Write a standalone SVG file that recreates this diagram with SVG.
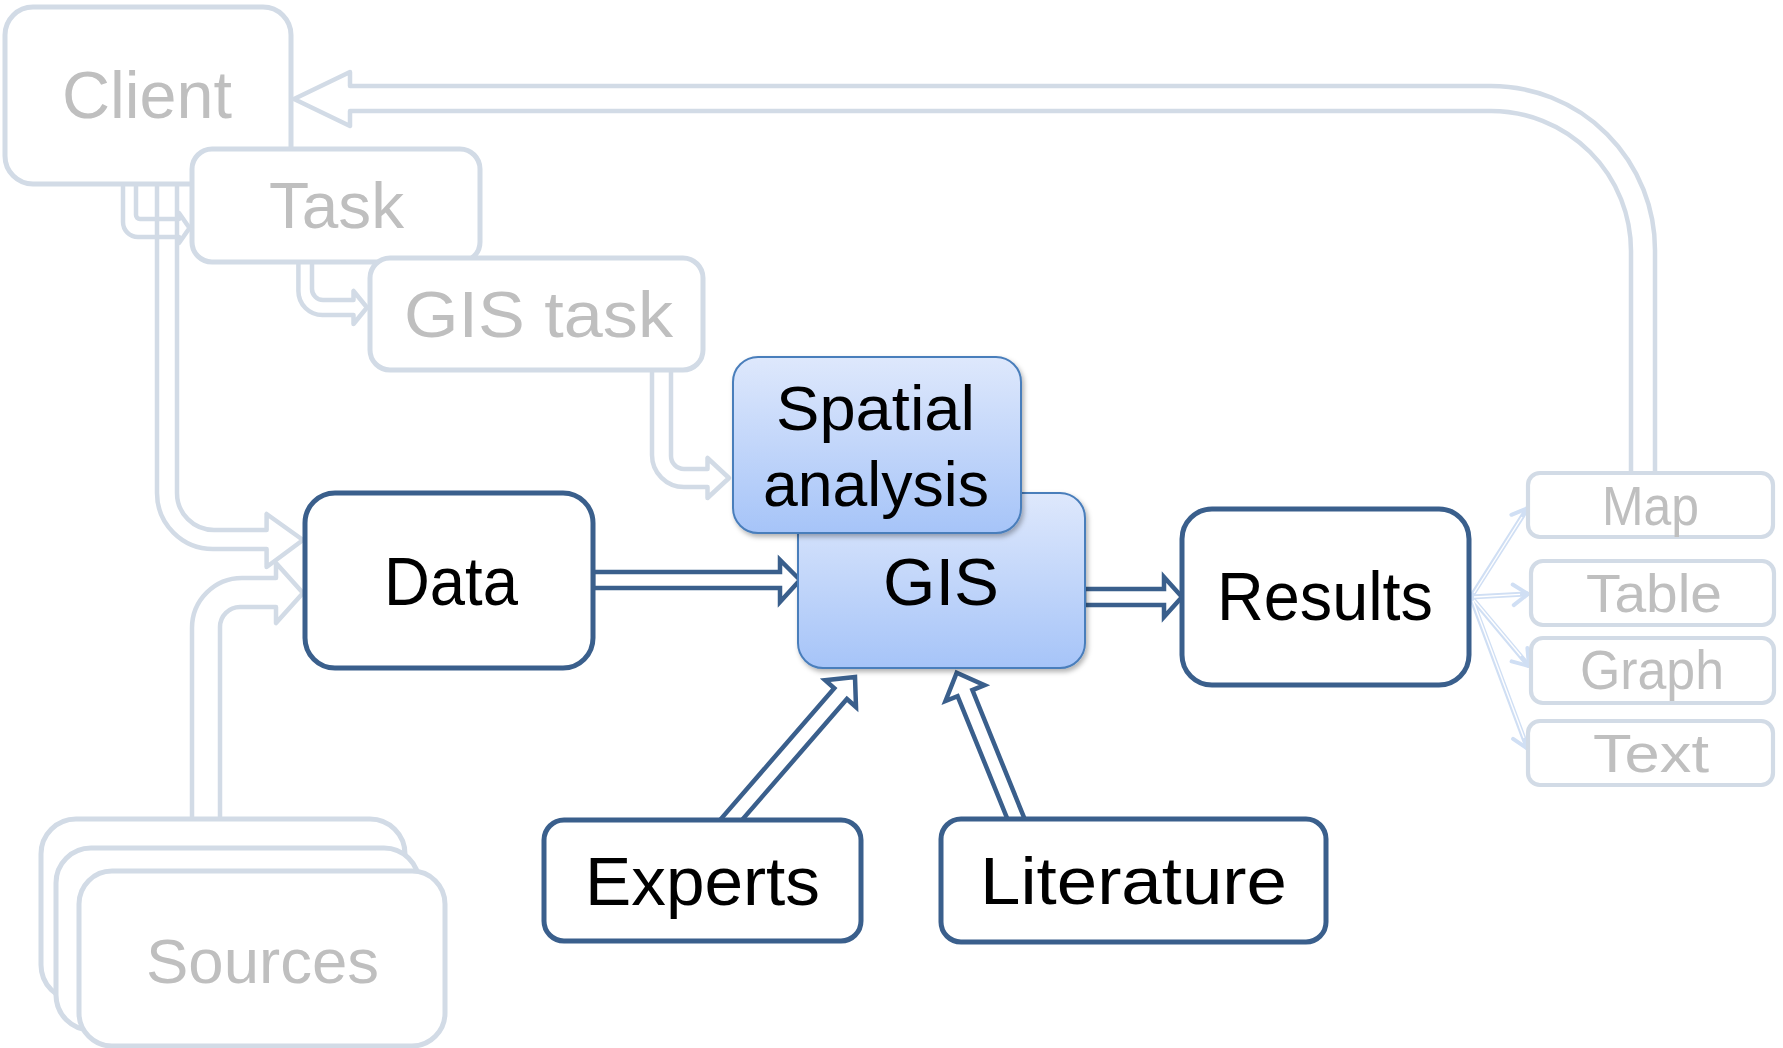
<svg xmlns="http://www.w3.org/2000/svg" width="1783" height="1048" viewBox="0 0 1783 1048">
<style>
.gbox{fill:#fff;stroke:#D2DBE6;stroke-width:5}
.obox{fill:#fff;stroke:#D2DBE6;stroke-width:4.2}
.bbox{fill:#fff;stroke:#3A5F8C;stroke-width:5}
.hbox{fill:url(#blueGrad);stroke:#4A7EBB;stroke-width:2;filter:url(#shadow)}
.garrow{fill:none;stroke:#D2DBE6;stroke-width:4.5;stroke-linejoin:round}
.barrow{fill:#fff;stroke:#3A5F8C;stroke-width:4.5;stroke-linejoin:miter}
.fan{fill:none;stroke:#D0DFF4;stroke-width:5;stroke-linecap:round}
.fanc{fill:none;stroke:#fff;stroke-width:1.4}
.chev{fill:none;stroke:#D0DFF4;stroke-width:4;stroke-linecap:round;stroke-linejoin:round}
.t{font-family:"Liberation Sans","DejaVu Sans",sans-serif;fill:#000}
.tg{font-family:"Liberation Sans","DejaVu Sans",sans-serif;fill:#BFBFBF}
</style>
<defs>
<linearGradient id="blueGrad" x1="0" y1="0" x2="0" y2="1">
<stop offset="0" stop-color="#DEE8FC"/>
<stop offset="1" stop-color="#A6C4F8"/>
</linearGradient>
<filter id="shadow" x="-10%" y="-10%" width="125%" height="130%">
<feDropShadow dx="2" dy="3" stdDeviation="2.5" flood-color="#000" flood-opacity="0.3"/>
</filter>
</defs>

<g id="connectors">
<path class="garrow" d="M1655,473 V250 A164,164 0 0 0 1491,86 H350 V72 L294,99 L350,126 V111 H1491 A140,140 0 0 1 1631,251 V473"/>
<path class="garrow" d="M157,184 V493 A56,56 0 0 0 213,549 H266.6 V567 L303,540 L266.6,514 V530 H214 A37,37 0 0 1 177,493 V184"/>
<path class="garrow" d="M123,184 V222 A15,15 0 0 0 138,237 H179 V243 L189.5,228 L179,213 V219 H140 A4,4 0 0 1 136,215 V184"/>
<path class="garrow" d="M298.4,262 V291 A24,24 0 0 0 322.4,315 H353.5 V324 L367,307.5 L353.5,291 V300 H323 A11,11 0 0 1 312,289 V262"/>
<path class="garrow" d="M652,370 V455 A32,32 0 0 0 684,487 H707.5 V498 L729,478 L707.5,458 V469 H684 A13,13 0 0 1 671,456 V370"/>
<path class="garrow" d="M192,819 V628 A50,50 0 0 1 242,578 H276 V563 L303,593 L276,623 V607 H240 A20,20 0 0 0 220,627 V819"/>
<path class="barrow" d="M593,572 H780 V560 L800,580 L780,602 V588 H593 Z"/>
<path class="barrow" d="M1084,589 H1164 V577 L1182,597 L1164,617 V605 H1084 Z"/>
<path class="barrow" d="M716.0,824.6 L834.3,688.2 L825.2,680.2 L855,677 L856.0,707.0 L846.9,699.0 L728.6,835.4 Z"/>
<path class="barrow" d="M1013.1,833.0 L957.6,696.1 L945.5,701.0 L956.7,672.7 L984.5,685.2 L972.4,690.1 L1027.9,827.0 Z"/>
<g id="fan">
<line class="fan" x1="1471" y1="597" x2="1527" y2="509"/>
<line class="fan" x1="1471" y1="597" x2="1527" y2="594"/>
<line class="fan" x1="1471" y1="597" x2="1528" y2="665"/>
<line class="fan" x1="1471" y1="597" x2="1527" y2="747"/>
<line class="fanc" x1="1474" y1="593" x2="1522" y2="517"/>
<line class="fanc" x1="1474" y1="597" x2="1520" y2="594.4"/>
<line class="fanc" x1="1474" y1="600" x2="1521" y2="656"/>
<line class="fanc" x1="1473" y1="601" x2="1524" y2="738"/>
<polyline class="chev" points="1511.4,514.8 1528,508 1528.8,526"/>
<polyline class="chev" points="1512.7,584.5 1528,594 1513.8,605.1"/>
<polyline class="chev" points="1527.4,648.1 1529,666 1511.6,661.4"/>
<polyline class="chev" points="1532.5,731.6 1528,749 1513.1,738.8"/>
</g>
</g>

<g id="client"><rect class="gbox" x="5" y="7" width="286" height="177" rx="28"/>
<text class="tg" x="62" y="118" font-size="66" textLength="170" lengthAdjust="spacingAndGlyphs">Client</text></g>
<g id="task"><rect class="gbox" x="192" y="149" width="288" height="113" rx="20"/>
<text class="tg" x="269" y="228" font-size="64" textLength="135" lengthAdjust="spacingAndGlyphs">Task</text></g>
<g id="gis-task"><rect class="gbox" x="370" y="258" width="333" height="112" rx="20"/>
<text class="tg" x="404" y="337" font-size="65" textLength="269" lengthAdjust="spacingAndGlyphs">GIS task</text></g>

<g id="data"><rect class="bbox" x="305" y="493" width="288" height="175" rx="30"/>
<text class="t" x="384" y="605" font-size="68" textLength="134" lengthAdjust="spacingAndGlyphs">Data</text></g>

<g id="gis"><rect class="hbox" x="798" y="493" width="287" height="175" rx="25"/>
<text class="t" x="883" y="605" font-size="67" textLength="116" lengthAdjust="spacingAndGlyphs">GIS</text></g>
<g id="spatial-analysis"><rect class="hbox" x="733" y="357" width="288" height="176" rx="25"/>
<text class="t" x="776" y="430" font-size="63" textLength="199" lengthAdjust="spacingAndGlyphs">Spatial</text>
<text class="t" x="763" y="506" font-size="63" textLength="226" lengthAdjust="spacingAndGlyphs">analysis</text></g>

<g id="results"><rect class="bbox" x="1182" y="509" width="287" height="176" rx="30"/>
<text class="t" x="1217" y="620" font-size="69" textLength="216" lengthAdjust="spacingAndGlyphs">Results</text></g>

<g id="experts"><rect class="bbox" x="544" y="820" width="317" height="121" rx="20"/>
<text class="t" x="585" y="905" font-size="69" textLength="235" lengthAdjust="spacingAndGlyphs">Experts</text></g>
<g id="literature"><rect class="bbox" x="941" y="819" width="385" height="123" rx="20"/>
<text class="t" x="980" y="904" font-size="67" textLength="307" lengthAdjust="spacingAndGlyphs">Literature</text></g>

<g id="sources">
<rect class="gbox" x="41" y="819" width="364" height="181" rx="35"/>
<rect class="gbox" x="56" y="848" width="363" height="182" rx="35"/>
<rect class="gbox" x="79" y="871" width="366" height="175" rx="33"/>
<text class="tg" x="146" y="983" font-size="63" textLength="233" lengthAdjust="spacingAndGlyphs">Sources</text></g>

<g id="map"><rect class="obox" x="1528" y="473" width="245" height="64" rx="12"/>
<text class="tg" x="1602" y="525" font-size="55" textLength="97" lengthAdjust="spacingAndGlyphs">Map</text></g>
<g id="table"><rect class="obox" x="1531" y="561" width="243" height="64" rx="12"/>
<text class="tg" x="1586" y="612" font-size="54" textLength="136" lengthAdjust="spacingAndGlyphs">Table</text></g>
<g id="graph"><rect class="obox" x="1531" y="638" width="243" height="65" rx="12"/>
<text class="tg" x="1580" y="689" font-size="55" textLength="144" lengthAdjust="spacingAndGlyphs">Graph</text></g>
<g id="text"><rect class="obox" x="1528" y="721" width="245" height="64" rx="12"/>
<text class="tg" x="1593" y="772" font-size="54" textLength="116" lengthAdjust="spacingAndGlyphs">Text</text></g>
</svg>
